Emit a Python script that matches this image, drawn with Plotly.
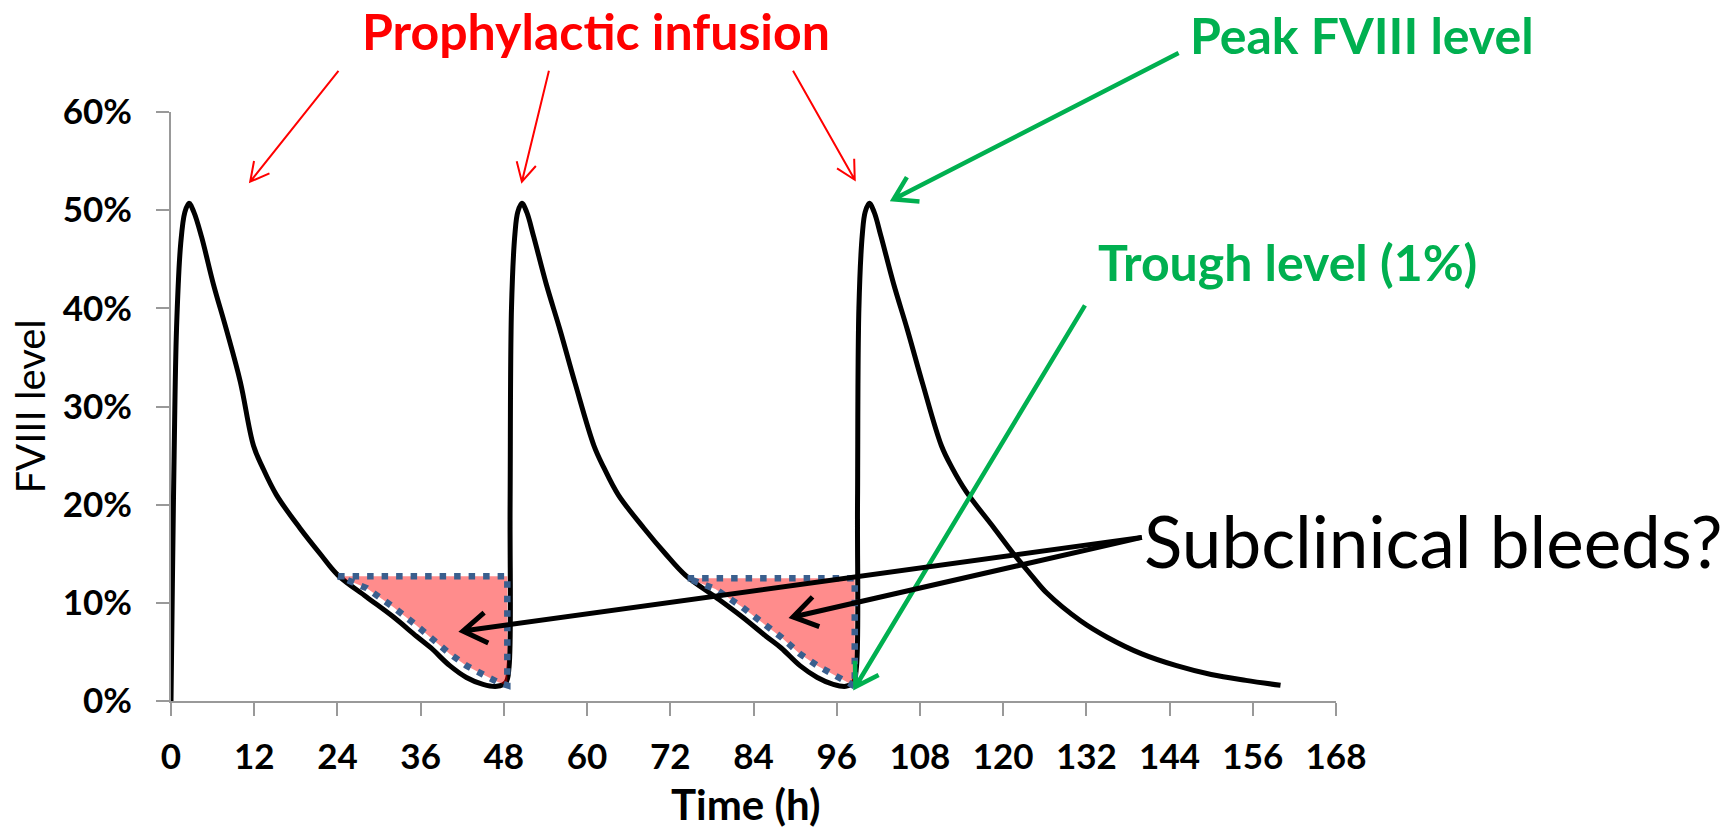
import math
import plotly.graph_objects as go

# ---------------- data ----------------
time_h = [0.0, 0.2, 0.45, 0.8, 1.4, 2.0, 2.6, 3.3, 4.4, 6.1, 8.0, 10.0, 11.9,
          13.2, 15.2, 18.6, 21.5, 24.1, 28.2, 32.0, 35.4, 37.5, 40.2, 42.6, 45.0, 47.0, 48.3, 48.75,
          48.9, 49.1, 49.6, 50.0, 50.6, 51.3, 52.3, 54.1, 56.1, 58.3, 61.0,
          62.4, 64.5, 68.2, 71.3, 74.2, 78.5, 82.3, 85.8, 88.0, 90.7, 93.2, 95.5, 97.3, 98.4, 98.85,
          99.0, 99.2, 99.7, 100.1, 100.7, 101.4, 102.4, 104.2, 106.2, 108.4, 111.1,
          112.6, 114.7, 118.6, 121.5, 124.2, 126.3, 131.1, 135.0, 140.0, 145.0, 150.0, 155.0, 160.0]
fviii = [0.000, 0.12, 0.25, 0.38, 0.466, 0.498, 0.507, 0.498, 0.473, 0.425, 0.378, 0.325, 0.260,
         0.238, 0.210, 0.176, 0.150, 0.128, 0.106, 0.086, 0.066, 0.054, 0.036, 0.024, 0.017, 0.015, 0.019, 0.035,
         0.20, 0.40, 0.476, 0.498, 0.507, 0.498, 0.473, 0.425, 0.378, 0.323, 0.260,
         0.238, 0.210, 0.176, 0.150, 0.128, 0.106, 0.086, 0.066, 0.054, 0.036, 0.024, 0.017, 0.015, 0.019, 0.035,
         0.20, 0.40, 0.476, 0.498, 0.507, 0.498, 0.473, 0.425, 0.378, 0.323, 0.260,
         0.238, 0.213, 0.177, 0.150, 0.127, 0.110, 0.082, 0.065, 0.048, 0.036, 0.027, 0.021, 0.016]

bleed1_t = [24.1, 48.5, 48.5, 47.2, 45.0, 42.6, 40.2, 37.5, 35.4, 32.0, 28.2, 24.1]
bleed1_v = [0.127, 0.127, 0.016, 0.019, 0.027, 0.036, 0.048, 0.065, 0.077, 0.096, 0.115, 0.127]
bleed2_t = [74.5, 98.6, 98.6, 97.4, 95.5, 93.2, 90.7, 88.0, 85.8, 82.3, 78.5, 74.5]
bleed2_v = [0.125, 0.125, 0.015, 0.019, 0.027, 0.036, 0.048, 0.065, 0.077, 0.096, 0.114, 0.125]

x_ticks = [0, 12, 24, 36, 48, 60, 72, 84, 96, 108, 120, 132, 144, 156, 168]
y_ticks = [0.0, 0.1, 0.2, 0.3, 0.4, 0.5, 0.6]
y_tick_labels = ["0%", "10%", "20%", "30%", "40%", "50%", "60%"]

# ---------------- layout geometry ----------------
W, H = 1730, 830
L, R, T, B = 171, 394, 112, 129
PW, PH = W - L - R, H - T - B
XMAX, YMAX = 168, 0.6


def to_px(t, v):
    return L + t / XMAX * PW, T + (1 - v / YMAX) * PH


def px_to_paper(X, Y):
    return (X - L) / PW, (T + PH - Y) / PH


def arrow(tail, tip, color, width, head_len, head_ang):
    x0, y0 = to_px(*tail)
    x1, y1 = to_px(*tip)
    dx, dy = x0 - x1, y0 - y1
    n = math.hypot(dx, dy)
    ux, uy = dx / n, dy / n
    pts = []
    for s in (1, -1):
        a = math.radians(head_ang) * s
        rx = ux * math.cos(a) - uy * math.sin(a)
        ry = ux * math.sin(a) + uy * math.cos(a)
        pts.append((x1 + rx * head_len, y1 + ry * head_len))
    P = lambda X, Y: "%.5f,%.5f" % px_to_paper(X, Y)
    path = "M%s L%s M%s L%s L%s" % (P(x0, y0), P(x1, y1), P(*pts[0]), P(x1, y1), P(*pts[1]))
    return dict(type="path", xref="paper", yref="paper", path=path, layer="above",
                line=dict(color=color, width=width))


RED, GREEN = "#FF0000", "#00B050"

fig = go.Figure()
fig.add_trace(go.Scatter(x=time_h, y=fviii, mode="lines",
                         line=dict(color="black", width=5, shape="spline", smoothing=1.0),
                         hoverinfo="skip"))
for bt, bv in ((bleed1_t, bleed1_v), (bleed2_t, bleed2_v)):
    fig.add_trace(go.Scatter(x=bt, y=bv, mode="lines", fill="toself",
                             fillcolor="rgba(255,0,0,0.45)",
                             line=dict(color="#3A5F8E", width=6.5, dash="6.5px,8px"),
                             hoverinfo="skip"))

shapes = [
    arrow((24.15, 0.642), (11.42, 0.529), RED, 2, 21, 28),
    arrow((54.5, 0.642), (50.6, 0.529), RED, 2, 21, 28),
    arrow((89.7, 0.642), (98.6, 0.531), RED, 2, 21, 28),
    arrow((145.3, 0.660), (104.2, 0.511), GREEN, 4.5, 26, 32),
    arrow((131.8, 0.403), (98.7, 0.0145), GREEN, 4.5, 26, 32),
    arrow((140.0, 0.1667), (42.1, 0.0713), "black", 5, 28, 33),
    arrow((140.0, 0.1667), (89.7, 0.0856), "black", 5, 28, 33),
    dict(type="line", xref="paper", yref="paper", x0=-13 / PW, x1=0, y0=0, y1=0,
         line=dict(color="#999999", width=2), layer="below"),
]


def text_ann(t, v, text, size, color, bold=True, angle=0, xanchor="center"):
    X, Y = to_px(t, v)
    px, py = px_to_paper(X, Y)
    return dict(x=px, y=py, xref="paper", yref="paper", text=text, showarrow=False,
                xanchor=xanchor, yanchor="middle", textangle=angle,
                font=dict(family="Lato", size=size, color=color,
                          weight="bold" if bold else "normal"))


annotations = [
    text_ann(61.3, 0.6825, "Prophylactic infusion", 50, RED),
    text_ann(171.7, 0.6780, "Peak FVIII level", 50, GREEN),
    text_ann(161.0, 0.4475, "Trough level (1%)", 50, GREEN),
    text_ann(182.0, 0.1640, "Subclinical bleeds?", 71, "black", bold=False),
    text_ann(-20.4, 0.2995, "FVIII level", 40, "black", bold=False, angle=-90),
    text_ann(82.9, -0.1045, "Time (h)", 42, "black"),
]

axis_common = dict(showgrid=False, zeroline=False, showline=True, linecolor="#999999",
                   linewidth=2, ticks="outside", ticklen=13, tickwidth=2, tickcolor="#999999")

fig.update_layout(
    width=W, height=H, margin=dict(l=L, r=R, t=T, b=B, autoexpand=False),
    plot_bgcolor="white", paper_bgcolor="white", showlegend=False,
    xaxis=dict(range=[0, XMAX], tickvals=x_ticks, ticklabelstandoff=11,
               tickfont=dict(family="Lato", size=35, color="black", weight="bold"),
               **axis_common),
    yaxis=dict(range=[0, YMAX], tickvals=y_ticks, ticktext=y_tick_labels, ticklabelstandoff=17,
               tickfont=dict(family="Lato", size=35, color="black", weight="bold"),
               **axis_common),
    shapes=shapes, annotations=annotations,
)

fig.write_html("out.html", config={"displayModeBar": False},
               post_script="document.body.style.margin='0px';document.body.style.overflow='hidden';")
